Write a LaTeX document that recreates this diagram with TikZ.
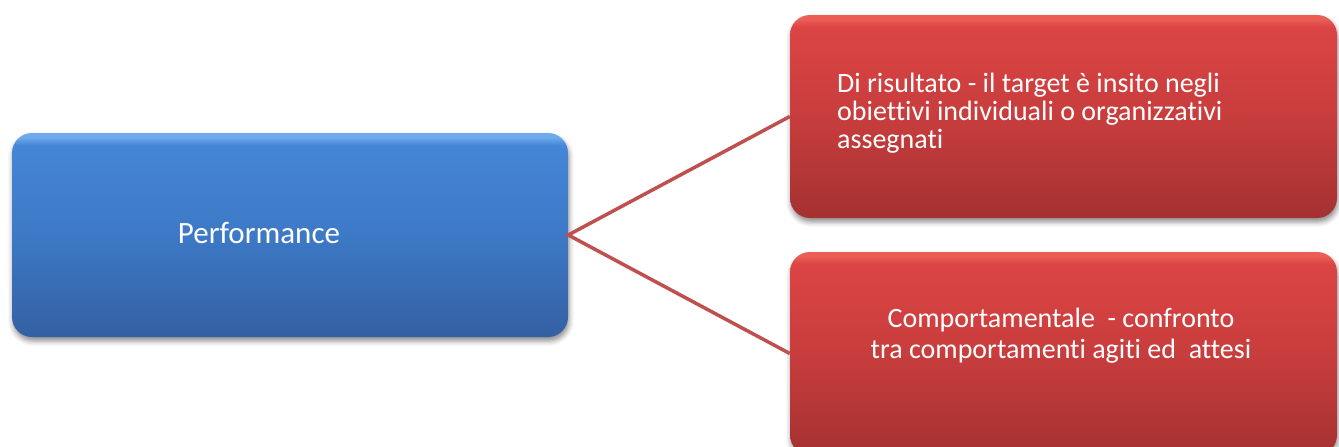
\documentclass[tikz,border=0pt]{standalone}
\usepackage{fontspec}
\setmainfont{Carlito}[Ligatures=NoCommon]
\usetikzlibrary{shadows.blur}
\definecolor{bluehi}{HTML}{6EAAEE}
\definecolor{bluetop}{HTML}{4586D6}
\definecolor{bluemid}{HTML}{3D79C6}
\definecolor{bluebot}{HTML}{3460A3}
\definecolor{redhi}{HTML}{EC5E55}
\definecolor{redtop}{HTML}{DC4444}
\definecolor{redmid}{HTML}{C83D3D}
\definecolor{redbot}{HTML}{A53131}
\definecolor{linkred}{HTML}{C0504D}
\pgfdeclareverticalshading{blueshade}{100bp}{color(0bp)=(bluebot); color(25bp)=(bluebot); color(50bp)=(bluemid); color(72bp)=(bluetop); color(74bp)=(bluehi); color(100bp)=(bluehi)}
\pgfdeclareverticalshading{redshade}{100bp}{color(0bp)=(redbot); color(25bp)=(redbot); color(50bp)=(redmid); color(72bp)=(redtop); color(74bp)=(redhi); color(100bp)=(redhi)}
\tikzset{
  boxbase/.style={rectangle, rounded corners=20pt, inner sep=0pt,
    blur shadow={shadow xshift=1pt, shadow yshift=-4pt, shadow blur radius=5pt, shadow opacity=45}},
  bluebox/.style={boxbase, shading=blueshade, minimum width=556pt, minimum height=204pt},
  redbox/.style={boxbase, shading=redshade, minimum width=547pt, minimum height=203pt},
  boxtext/.style={text=white, inner sep=0pt},
  link/.style={draw=linkred, line width=3.5pt}
}
\begin{document}
\begin{tikzpicture}[x=1pt,y=-1pt]
\useasboundingbox (0,0) rectangle (1339,447);
\clip (0,0) rectangle (1339,447);
\node[bluebox] (perf) at (290,235) {};
\node[redbox] (r1) at (1063.5,116.5) {};
\node[redbox] (r2) at (1063.5,353.5) {};
\draw[link] (r1.west) -- (perf.east) -- (r2.west);
\node[boxtext, anchor=base, font=\fontsize{31}{34}\selectfont] (ptext) at (259,243) {Performance};
\node[boxtext, anchor=north west, align=left, font=\fontsize{28}{28}\selectfont] (t1) at (837,72.5)
  {Di risultato - il target è insito negli\\obiettivi individuali o organizzativi\\assegnati};
\node[boxtext, anchor=north, align=center, font=\fontsize{28}{31}\selectfont] (t2) at (1061,307.5)
  {Comportamentale\ \ - confronto\\tra comportamenti agiti ed\ \ attesi};
\end{tikzpicture}
\end{document}
